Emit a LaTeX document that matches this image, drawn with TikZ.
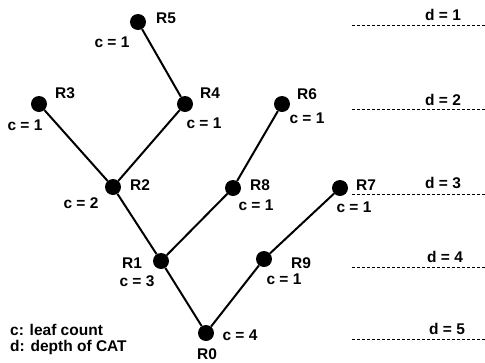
\documentclass[tikz,border=0pt]{standalone}
\usepackage{fontspec}
\setmainfont{Liberation Sans}

\tikzset{
	vertex/.style={circle,fill=black,inner sep=0pt,minimum size=16pt},
	lbl/.style={font=\fontsize{15.5}{18}\selectfont\bfseries,inner sep=0pt},
	edge/.style={line width=2pt},
	level/.style={dash pattern=on 3pt off 2pt,line width=0.9pt}
}

\begin{document}
\begin{tikzpicture}[x=1pt,y=-1pt]
		\useasboundingbox (0,0) rectangle (485,362);
		
		% routers
		\node[vertex] (r0) at (206,333) {};
		\node[vertex] (r1) at (161,261) {};
		\node[vertex] (r2) at (113,187) {};
		\node[vertex] (r3) at (39,104) {};
		\node[vertex] (r4) at (185,104) {};
		\node[vertex] (r5) at (138,22) {};
		\node[vertex] (r6) at (282,104) {};
		\node[vertex] (r7) at (340,188) {};
		\node[vertex] (r8) at (233,188) {};
		\node[vertex] (r9) at (264,259) {};
		
		\draw[edge] (r0)--(r1)--(r2)--(r3);
		\draw[edge] (r2)--(r4)--(r5);
		\draw[edge] (r1)--(r8)--(r6);
		\draw[edge] (r0)--(r9)--(r7);
		
		% names and leaf counts
		\node[lbl] at (166,18) {R5};
		\node[lbl] at (112,42) {c = 1};
		\node[lbl] at (65,93) {R3};
		\node[lbl] at (25,125) {c = 1};
		\node[lbl] at (210,93) {R4};
		\node[lbl] at (204,123) {c = 1};
		\node[lbl] at (307,94) {R6};
		\node[lbl] at (307,118) {c = 1};
		\node[lbl] at (140,185) {R2};
		\node[lbl] at (81,203) {c = 2};
		\node[lbl] at (260,185) {R8};
		\node[lbl] at (256,205) {c = 1};
		\node[lbl] at (366,185) {R7};
		\node[lbl] at (354,207) {c = 1};
		\node[lbl] at (132,263) {R1};
		\node[lbl] at (137,281) {c = 3};
		\node[lbl] at (301,263) {R9};
		\node[lbl] at (284,279) {c = 1};
		\node[lbl] at (207,354) {R0};
		\node[lbl] at (240,335) {c = 4};
		
		% depth levels
		\draw[level] (352,25)--(485,25);
		\draw[level] (352,109)--(485,109);
		\draw[level] (352,194)--(485,194);
		\draw[level] (352,267)--(485,267);
		\draw[level] (352,339)--(485,339);
		\node[lbl] at (443,15) {d = 1};
		\node[lbl] at (443,100) {d = 2};
		\node[lbl] at (443,183) {d = 3};
		\node[lbl] at (445,257) {d = 4};
		\node[lbl] at (447,329) {d = 5};
		
		\node[lbl,anchor=west] at (10,330) {c: leaf count};
		\node[lbl,anchor=west] at (10,347) {d: depth of CAT};
	\end{tikzpicture}
\end{document}
